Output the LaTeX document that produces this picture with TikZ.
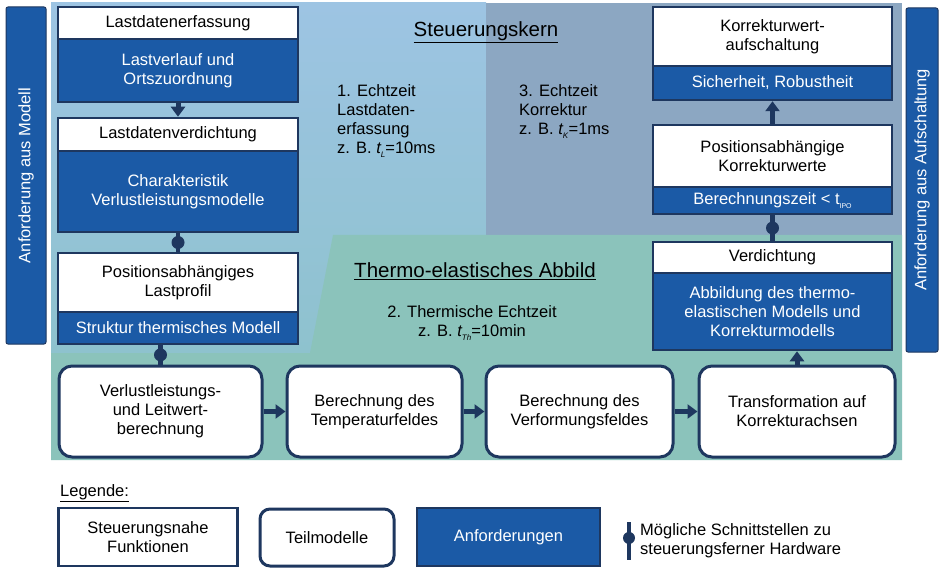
\documentclass[tikz,border=0pt]{standalone}
\usepackage{fontspec}
\setmainfont{Liberation Sans}
\usetikzlibrary{arrows.meta}
\definecolor{navy}{RGB}{30,55,95}
\definecolor{reqblue}{RGB}{27,90,166}
\definecolor{bgblueT}{RGB}{157,196,227}
\definecolor{bgblueB}{RGB}{142,194,206}
\definecolor{bgsteel}{RGB}{140,167,194}
\definecolor{bgteal}{RGB}{139,195,187}
\newcommand\tsubit[1]{\textit{t}\kern-0.03em\raisebox{-0.45ex}{\fontsize{8}{8}\selectfont\textit{#1}}}
\newcommand\tsubup[1]{t\raisebox{-0.45ex}{\fontsize{7}{7}\selectfont #1}}
\begin{document}
\begin{tikzpicture}[x=1pt,y=-1pt,
  every node/.style={font=\fontsize{16.5}{19}\selectfont, inner sep=0pt, align=center},
  hdr/.style={draw=navy, line width=2.5pt, fill=white, text=black},
  req/.style={draw=navy, line width=2.5pt, fill=reqblue, text=white},
  part/.style={draw=navy, line width=3pt, fill=white, text=black, rounded corners=13pt},
  bar/.style={draw=navy, line width=1pt, fill=reqblue, text=white, rounded corners=2pt},
  title/.style={font=\fontsize{20.5}{24}\selectfont},
  arr/.style={draw=navy, line width=5pt, -{Triangle[length=10pt,width=14pt]}},
  conn/.style={draw=navy, line width=4.5pt},
  dot/.style={circle, fill=navy, minimum size=13pt, inner sep=0pt}]
\useasboundingbox (0,0) rectangle (939,569);
% backgrounds
\shade[top color=bgblueT, bottom color=bgblueB] (51,3) rectangle (486,353);
\fill[bgsteel] (486,3) rectangle (902,235);
\fill[bgteal] (333,235) -- (902,235) -- (902,460) -- (51,460) -- (51,353) -- (310,353) -- cycle;
% side bars
\node[bar, minimum width=337pt, minimum height=40pt, rotate=90] (barL) at (26,175.5) {Anforderung aus Modell};
\node[bar, minimum width=344pt, minimum height=32pt, rotate=90] (barR) at (922,180) {Anforderung aus Aufschaltung};
% left column
\node[hdr, minimum width=240pt, minimum height=32pt] (H1) at (178,23) {Lastdatenerfassung};
\node[req, minimum width=240pt, minimum height=63pt] (B1) at (178,70.5) {Lastverlauf und\\Ortszuordnung};
\node[hdr, minimum width=240pt, minimum height=33pt] (H2) at (178,134.5) {Lastdatenverdichtung};
\node[req, minimum width=240pt, minimum height=81pt] (B2) at (178,191.5) {Charakteristik\\Verlustleistungsmodelle};
\node[hdr, minimum width=240pt, minimum height=59pt] (H3) at (178,282.5) {Positionsabhängiges\\Lastprofil};
\node[req, minimum width=240pt, minimum height=32pt] (B3) at (178,328) {Struktur thermisches Modell};
% right column
\node[hdr, minimum width=239pt, minimum height=59pt] (K1) at (772.5,36.5) {Korrekturwert-\\aufschaltung};
\node[req, minimum width=239pt, minimum height=34pt] (K2) at (772.5,83) {Sicherheit, Robustheit};
\node[hdr, minimum width=239pt, minimum height=62pt] (P1) at (772.5,156) {Positionsabhängige\\Korrekturwerte};
\node[req, minimum width=239pt, minimum height=27pt] (P2) at (772.5,200.5) {Berechnungszeit < \tsubup{IPO}};
\node[hdr, minimum width=239pt, minimum height=31pt] (V1) at (772.5,257.5) {Verdichtung};
\node[req, minimum width=239pt, minimum height=77pt] (V2) at (772.5,311.5) {Abbildung des thermo-\\elastischen Modells und\\Korrekturmodells};
% bottom row
\node[part, minimum width=203pt, minimum height=91pt] (T1) at (160.5,411.5) {Verlustleistungs-\\und Leitwert-\\berechnung};
\node[part, minimum width=175pt, minimum height=91pt] (T2) at (374.5,411.5) {Berechnung des\\Temperaturfeldes};
\node[part, minimum width=187pt, minimum height=91pt] (T3) at (579.5,411.5) {Berechnung des\\Verformungsfeldes};
\node[part, minimum width=196pt, minimum height=91pt] (T4) at (797,411.5) {Transformation auf\\Korrekturachsen};
% texts
\node[title] (st) at (486,32) {\underline{Steuerungskern}};
\node[anchor=north west, align=left] (e1) at (337,84) {1. Echtzeit\\Lastdaten-\\erfassung\\z. B. \tsubit{L}=10ms};
\node[anchor=north west, align=left] (e3) at (519,84) {3. Echtzeit\\Korrektur\\z. B. \tsubit{K}=1ms};
\node[title] (tt) at (475,271) {\underline{Thermo-elastisches Abbild}};
\node (e2) at (472,323) {2. Thermische Echtzeit\\z. B. \tsubit{Th}=10min};
% connectors
\draw[arr] (B1.south) -- (H2.north);
\draw[conn] (B2.south) -- node[dot]{} (H3.north);
\draw[conn] (T1.north |- B3.south) -- node[dot]{} (T1.north);
\draw[arr] (T1.east) -- (T2.west);
\draw[arr] (T2.east) -- (T3.west);
\draw[arr] (T3.east) -- (T4.west);
\draw[arr] (T4.north) -- (T4.north |- V2.south);
\draw[conn] (V1.north) -- node[dot]{} (P2.south);
\draw[arr] (P1.north) -- (K2.south);
% legend
\node[anchor=west] (lg) at (60,493) {\underline{Legende:}};
\node[hdr, minimum width=179pt, minimum height=58pt] (L1) at (148,537) {Steuerungsnahe\\Funktionen};
\node[part, rounded corners=10pt, minimum width=134pt, minimum height=57pt] (L2) at (327,537.5) {Teilmodelle};
\node[req, minimum width=183pt, minimum height=58pt] (L3) at (508.5,537) {Anforderungen};
\coordinate (lga) at (629,522);
\coordinate (lgb) at (629,560);
\draw[conn, line width=4pt] (lga) -- node[dot, pos=0.42, minimum size=12pt]{} (lgb);
\node[anchor=west, align=left] (lt) at (640,541) {Mögliche Schnittstellen zu\\steuerungsferner Hardware};
\end{tikzpicture}
\end{document}
